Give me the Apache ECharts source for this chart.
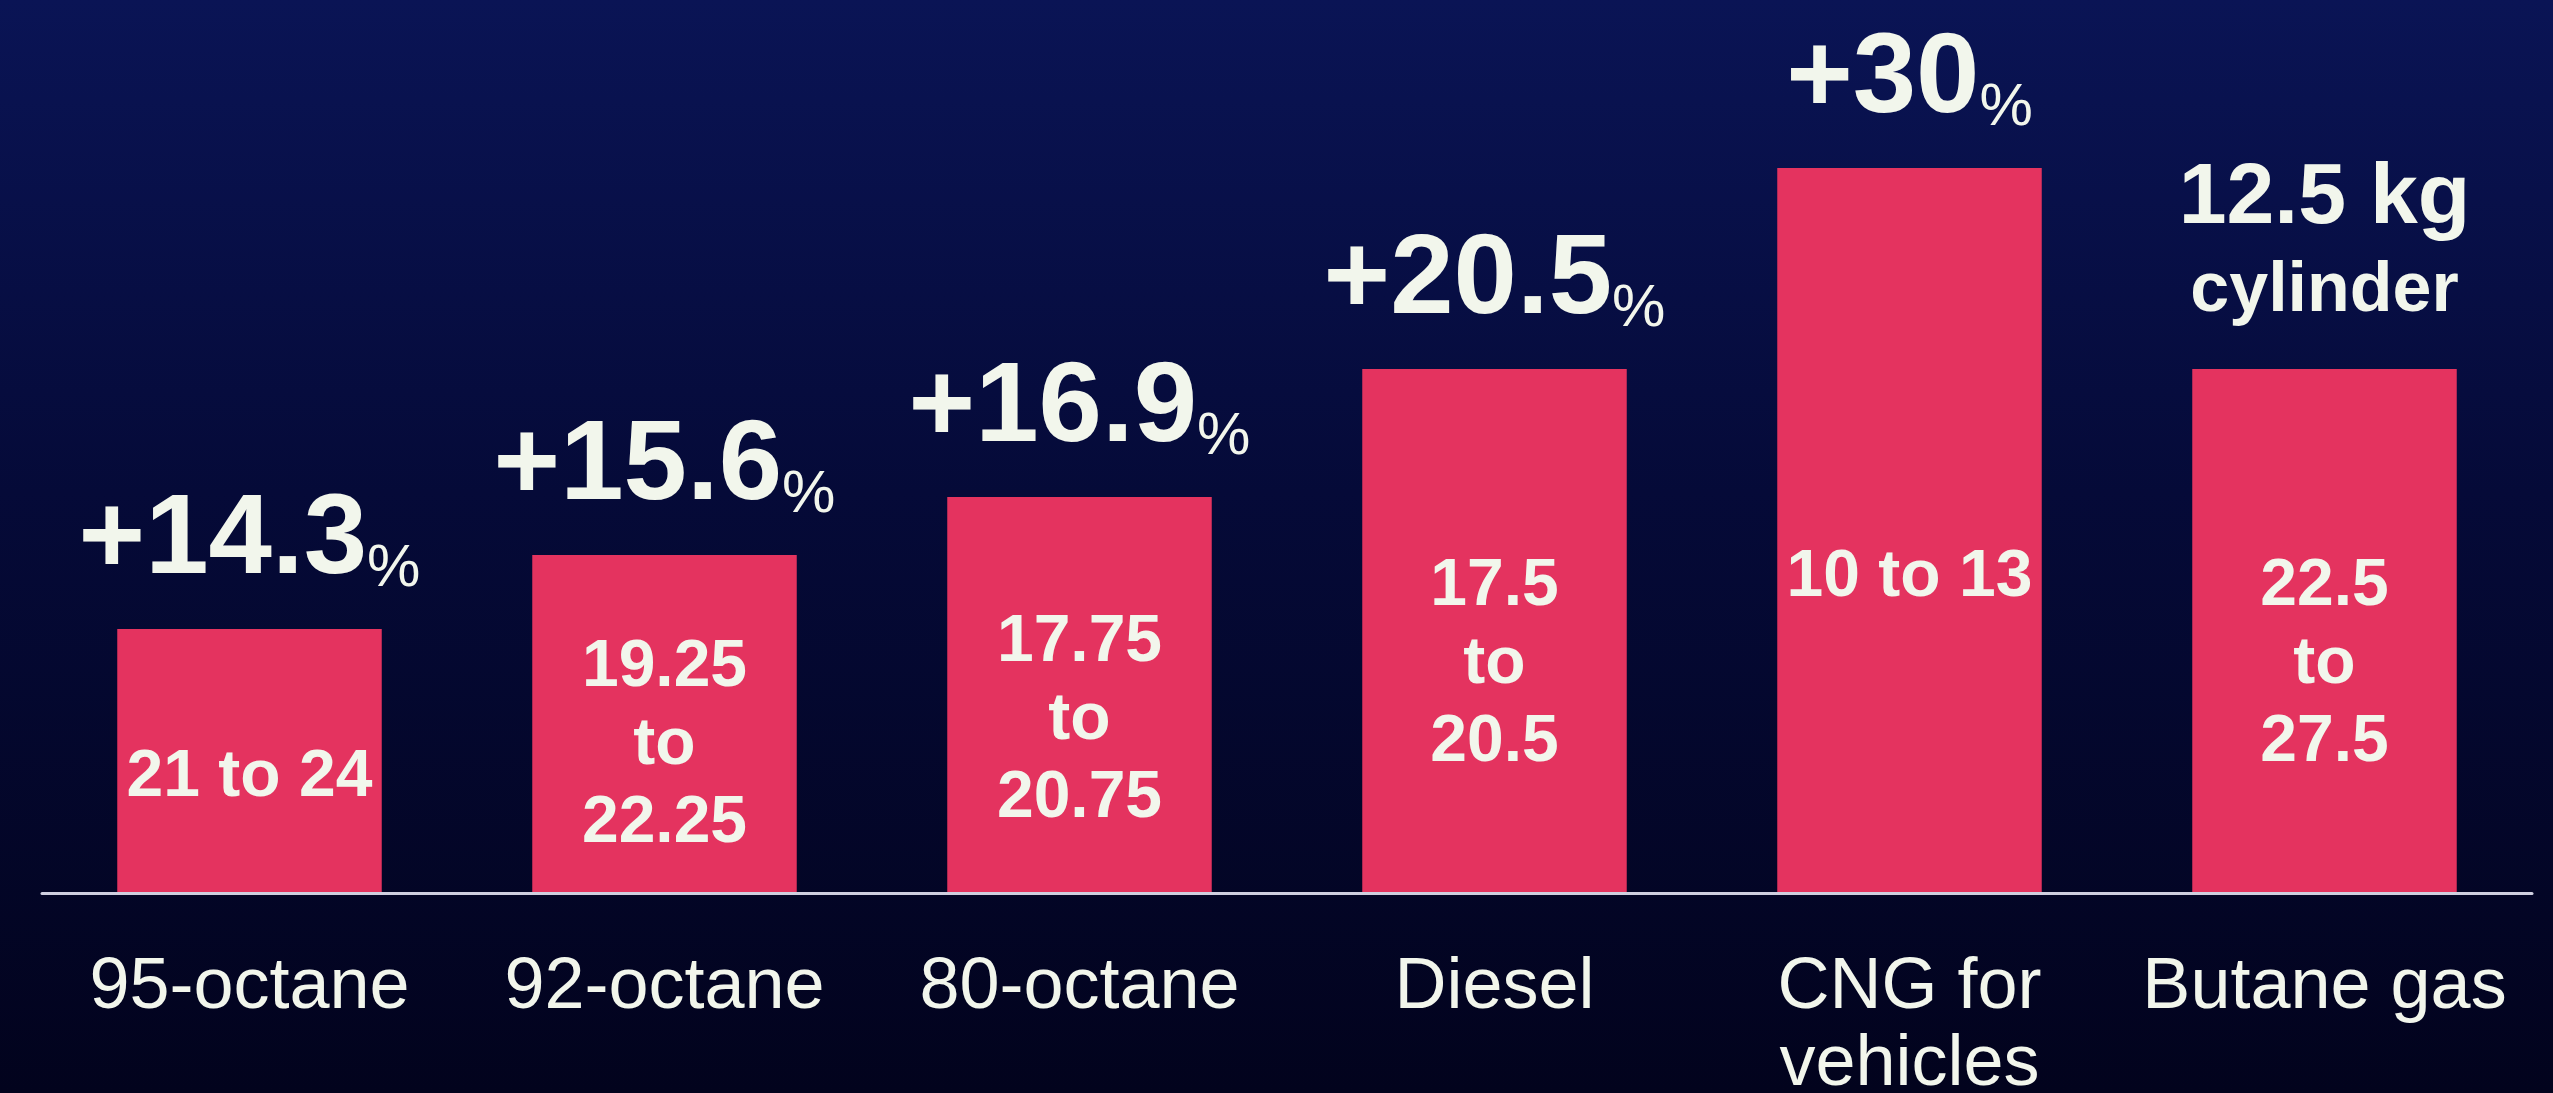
<!DOCTYPE html>
<html>
<head>
<meta charset="utf-8">
<script src="https://cdn.jsdelivr.net/npm/echarts@6/dist/echarts.min.js"></script>
<style>
  html, body { margin: 0; padding: 0; background: #02031d; }
  #chart { width: 2553px; height: 1093px; }
</style>
</head>
<body>
<div id="chart"></div>
<script>
// ---- Data ----
const categories = ['95-octane', '92-octane', '80-octane', 'Diesel', 'CNG for\nvehicles', 'Butane gas'];
// Bar heights (illustrative, arbitrary units as drawn)
const barHeight = [26.4, 33.8, 39.6, 52.4, 72.5, 52.4];
// Percentage increase shown above each bar (null = no percentage)
const pctIncrease = ['14.3', '15.6', '16.9', '20.5', '30', null];
// Note shown above the last bar instead of a percentage
const topNote = ['12.5 kg', 'cylinder'];
// New price ranges written inside the bars
const priceRange = ['21 to 24', '19.25\nto\n22.25', '17.75\nto\n20.75', '17.5\nto\n20.5', '10 to 13', '22.5\nto\n27.5'];

const TEXT = '#f2f6ec';
const BAR = '#e4335f';
const FONT = '"Liberation Sans", Arial, sans-serif';

const chart = echarts.init(document.getElementById('chart'), null, { renderer: 'canvas' });

chart.setOption({
  backgroundColor: {
    type: 'linear', x: 0, y: 0, x2: 0, y2: 1,
    colorStops: [
      { offset: 0, color: '#0a1455' },
      { offset: 0.45, color: '#050a38' },
      { offset: 1, color: '#02031d' }
    ]
  },
  animation: false,
  grid: { left: 42, right: 21, top: 93, bottom: 200, containLabel: false, outerBoundsMode: 'none' },
  xAxis: {
    type: 'category',
    data: categories,
    z: 5,
    axisLine: { show: true, lineStyle: { color: '#cfcfe0', width: 3 } },
    axisTick: { show: false },
    axisLabel: {
      color: TEXT,
      fontFamily: FONT,
      fontSize: 72,
      lineHeight: 77,
      margin: 57,
      interval: 0
    }
  },
  yAxis: {
    type: 'value',
    min: 0,
    max: 80,
    show: false,
    splitLine: { show: false }
  },
  series: [
    {
      type: 'bar',
      data: barHeight,
      barWidth: 264,
      itemStyle: { color: BAR },
      label: {
        show: true,
        position: 'top',
        distance: 30,
        color: TEXT,
        fontFamily: FONT,
        formatter: function (p) {
          const v = pctIncrease[p.dataIndex];
          if (v === null) {
            return '{a|' + topNote[0] + '}\n{b|' + topNote[1] + '}';
          }
          return '{n|+' + v + '}{p|%}';
        },
        rich: {
          n: { fontSize: 114, fontWeight: 'bold', lineHeight: 114, color: TEXT, fontFamily: FONT, verticalAlign: 'bottom' },
          p: { fontSize: 60, fontWeight: 'normal', lineHeight: 76, color: TEXT, fontFamily: FONT, verticalAlign: 'bottom' },
          a: { fontSize: 86, fontWeight: 'bold', lineHeight: 91, color: TEXT, fontFamily: FONT, align: 'center' },
          b: { fontSize: 70, fontWeight: 'bold', lineHeight: 94, color: TEXT, fontFamily: FONT, align: 'center' }
        }
      }
    },
    {
      type: 'bar',
      data: barHeight,
      barWidth: 264,
      barGap: '-100%',
      itemStyle: { color: BAR },
      label: {
        show: true,
        position: ['50%', '56.5%'],
        align: 'center',
        verticalAlign: 'middle',
        color: TEXT,
        fontFamily: FONT,
        fontSize: 66,
        fontWeight: 'bold',
        lineHeight: 78,
        formatter: function (p) { return priceRange[p.dataIndex]; }
      }
    }
  ]
});
</script>
</body>
</html>
